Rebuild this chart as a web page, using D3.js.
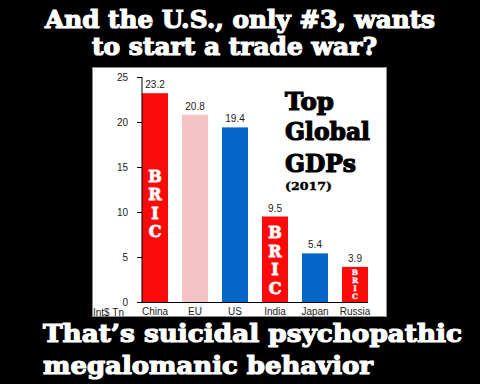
<!DOCTYPE html>
<html><head><meta charset="utf-8">
<script src="https://cdn.jsdelivr.net/npm/d3@7"></script>
<style>html,body{margin:0;padding:0;background:#000;}svg{display:block;}</style>
</head><body>
<script>
const categories = ["China", "EU", "US", "India", "Japan", "Russia"];
const values = [23.2, 20.8, 19.4, 9.5, 5.4, 3.9];
const valueLabels = ["23.2", "20.8", "19.4", "9.5", "5.4", "3.9"];
const groups = ["BRIC", "EU", "US", "BRIC", "US", "BRIC"];
const yTicks = [0, 5, 10, 15, 20, 25];
const unitLabel = "Int$ Tn";
const bricLetters = ["B", "R", "I", "C"];
const headline = ["And the U.S., only #3, wants", "to start a trade war?"];
const footer = ["That\u2019s suicidal psychopathic", "megalomanic behavior"];
const chartTitle = ["Top", "Global", "GDPs"];
const chartSubtitle = "(2017)";

const W = 480, H = 384;
const slab = "'DejaVu Serif', serif";
const sans = "'Liberation Sans', Arial, sans-serif";
const colors = {BRIC: "#fb0a0a", EU: "#f5c3c3", US: "#0466c8"};

const svg = d3.select("body").append("svg").attr("width", W).attr("height", H);
svg.append("rect").attr("width", W).attr("height", H).attr("fill", "#000");

// panel
svg.append("rect").attr("x", 92.5).attr("y", 67.5).attr("width", 294).attr("height", 249)
  .attr("fill", "#fff").attr("stroke", "#8a8a8a").attr("stroke-width", 1);

const x = d3.scaleBand().domain(categories).range([142, 368]).paddingInner(0.35).paddingOuter(0);
const y = d3.scaleLinear().domain([0, 25]).range([302, 77]);

// bars
const g = svg.append("g");
g.selectAll("rect.bar").data(categories).join("rect")
  .attr("class", "bar")
  .attr("x", d => x(d)).attr("width", x.bandwidth())
  .attr("y", (d, i) => y(values[i])).attr("height", (d, i) => y(0) - y(values[i]))
  .attr("fill", (d, i) => colors[groups[i]]);

// value labels
g.selectAll("text.val").data(categories).join("text")
  .attr("class", "val")
  .attr("x", d => x(d) + x.bandwidth() / 2)
  .attr("y", (d, i) => y(values[i]) - 5)
  .attr("text-anchor", "middle").attr("font-family", sans).attr("font-size", 10)
  .attr("fill", "#222").text((d, i) => valueLabels[i]);

// BRIC letters
const bricStyle = {China: {size: 16, step: 18.4, shift: 6, sw: 0.8}, India: {size: 16, step: 18.4, shift: 1, sw: 0.8}, Russia: {size: 7.5, step: 7.8, shift: 0, sw: 0.3}};
categories.forEach((c, i) => {
  if (groups[i] !== "BRIC") return;
  const st = bricStyle[c];
  const mid = (y(values[i]) + y(0)) / 2 + st.shift;
  const cx = x(c) + x.bandwidth() / 2;
  bricLetters.forEach((L, k) => {
    g.append("text").attr("x", cx)
      .attr("y", mid + (k - 1.5) * st.step + st.size * 0.36)
      .attr("text-anchor", "middle").attr("font-family", slab).attr("font-weight", "bold")
      .attr("font-size", st.size).attr("fill", "#fff")
      .attr("stroke", "#fff").attr("stroke-width", st.sw).text(L);
  });
});

// axes
const yAxis = svg.append("g").attr("transform", "translate(142,0)")
  .call(d3.axisLeft(y).tickValues(yTicks).tickSize(5).tickPadding(9).tickFormat(d3.format("d")));
yAxis.select(".domain").attr("stroke", "#000").attr("d", "M0," + y(25) + "V" + y(0));
yAxis.selectAll(".tick line").attr("stroke", "#000");
yAxis.selectAll(".tick text").attr("font-family", sans).attr("font-size", 10).attr("fill", "#222");

const xAxis = svg.append("g").attr("transform", "translate(0,302)")
  .call(d3.axisBottom(x).tickSize(0).tickPadding(5));
xAxis.select(".domain").attr("stroke", "#000").attr("d", "M142,0.5H368");
xAxis.selectAll(".tick text").attr("font-family", sans).attr("font-size", 10).attr("fill", "#222").attr("dy", "0.75em");

svg.append("text").attr("x", 93).attr("y", 316).attr("font-family", sans).attr("font-size", 10)
  .attr("fill", "#222").text(unitLabel);

// chart title
const tLines = [{t: chartTitle[0], y: 110, w: 49}, {t: chartTitle[1], y: 140, w: 85}, {t: chartTitle[2], y: 171.5, w: 71}];
tLines.forEach(l => {
  svg.append("text").attr("x", 285).attr("y", l.y).attr("font-family", slab).attr("font-weight", "bold")
    .attr("font-size", 24).attr("fill", "#000").attr("stroke", "#000").attr("stroke-width", 1.2)
    .attr("textLength", l.w).attr("lengthAdjust", "spacingAndGlyphs").text(l.t);
});
svg.append("text").attr("x", 285).attr("y", 190).attr("font-family", slab).attr("font-weight", "bold")
  .attr("font-size", 11).attr("fill", "#000").attr("stroke", "#000").attr("stroke-width", 0.4)
  .attr("textLength", 47).attr("lengthAdjust", "spacingAndGlyphs").text(chartSubtitle);

// headline & footer
const big = [
  {t: headline[0], x: 45, y: 28, w: 390},
  {t: headline[1], x: 92, y: 55, w: 285},
  {t: footer[0], x: 43, y: 342, w: 419},
  {t: footer[1], x: 43, y: 374, w: 330}
];
big.forEach(l => {
  svg.append("text").attr("x", l.x).attr("y", l.y).attr("font-family", slab).attr("font-weight", "bold")
    .attr("font-size", 24).attr("fill", "#fff").attr("stroke", "#fff").attr("stroke-width", 1.2)
    .attr("textLength", l.w).attr("lengthAdjust", "spacingAndGlyphs").text(l.t);
});
</script>
</body></html>
